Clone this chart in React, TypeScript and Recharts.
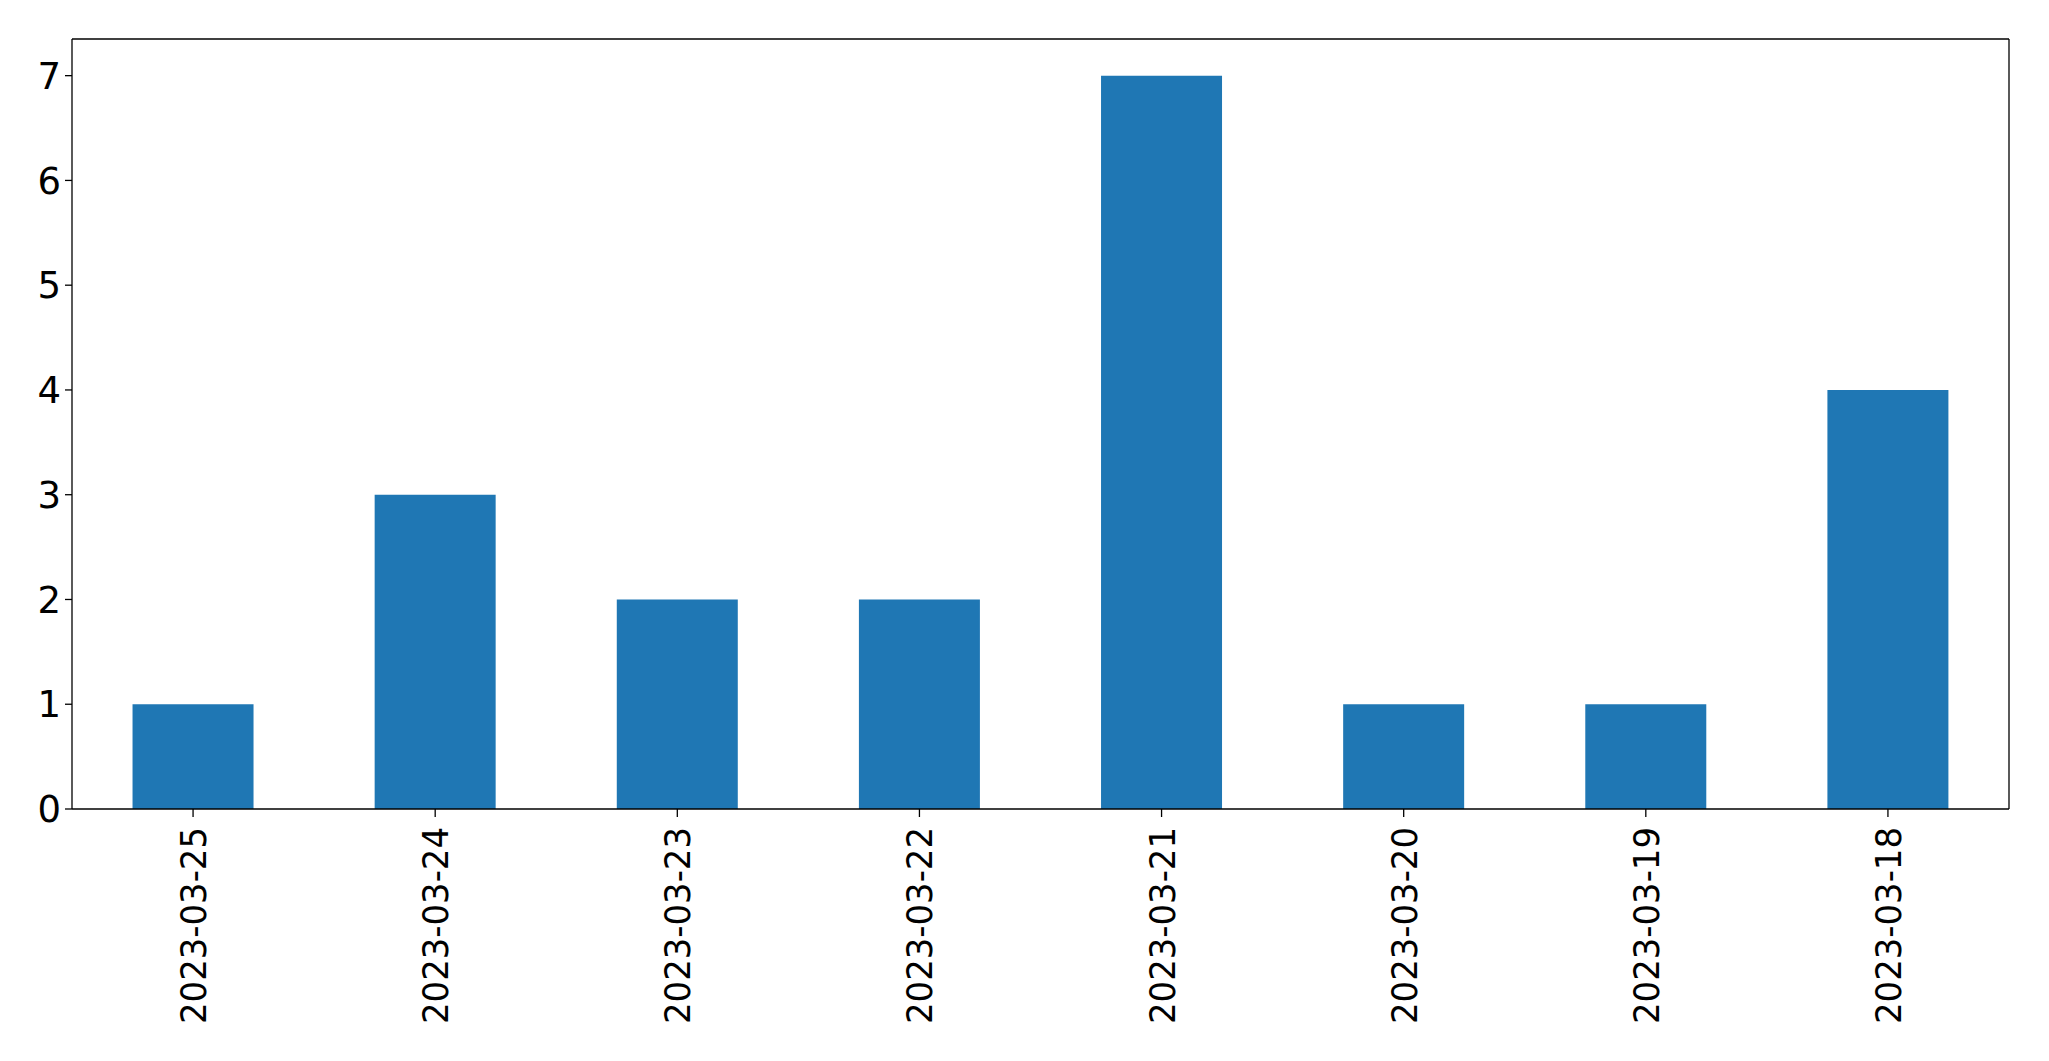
import { Bar, BarChart, XAxis, YAxis } from "recharts";

const dates = [
  "2023-03-25",
  "2023-03-24",
  "2023-03-23",
  "2023-03-22",
  "2023-03-21",
  "2023-03-20",
  "2023-03-19",
  "2023-03-18",
];
const counts = [1, 3, 2, 2, 7, 1, 1, 4];
const yTicks = [0, 1, 2, 3, 4, 5, 6, 7];

const BAR = "#1f77b4";
const FONT = "'DejaVu Sans', sans-serif";

const data = dates.map((d, i) => ({ date: d, count: counts[i] }));

function DateTick(props: { x?: number; y?: number; payload?: { value: string } }) {
  const { x = 0, y = 0, payload } = props;
  return (
    <text
      x={x}
      y={y}
      transform={`rotate(-90, ${x}, ${y})`}
      textAnchor="end"
      dy="0.36em"
      fill="#000"
      fontFamily={FONT}
      fontSize={36}
      textLength={197}
      lengthAdjust="spacingAndGlyphs"
    >
      {payload?.value}
    </text>
  );
}

export default function App() {
  const frame = { stroke: "#000", strokeWidth: 1.3 };
  return (
    <div style={{ position: "absolute", left: 0, top: 0, background: "#fff" }}>
      <BarChart
        width={2049}
        height={1061}
        data={data}
        margin={{ top: 38, right: 39, bottom: 0, left: 0 }}
        barCategoryGap="25%"
      >
        <XAxis
          dataKey="date"
          interval={0}
          height={252}
          axisLine={frame}
          tickLine={frame}
          tickSize={8}
          tickMargin={10}
          tick={<DateTick />}
        />
        <XAxis
          xAxisId="top"
          dataKey="date"
          orientation="top"
          height={1}
          tick={false}
          tickLine={false}
          axisLine={frame}
        />
        <YAxis
          width={72}
          domain={[0, 7.35]}
          ticks={yTicks}
          interval={0}
          axisLine={frame}
          tickLine={frame}
          tickSize={7}
          tickMargin={4}
          tick={{ fill: "#000", fontFamily: FONT, fontSize: 37 }}
        />
        <YAxis
          yAxisId="right"
          orientation="right"
          width={1}
          domain={[0, 7.35]}
          tick={false}
          tickLine={false}
          axisLine={frame}
        />
        <Bar dataKey="count" fill={BAR} isAnimationActive={false} />
      </BarChart>
    </div>
  );
}
